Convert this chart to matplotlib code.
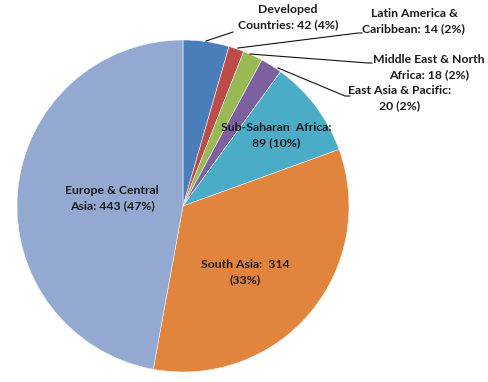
import matplotlib.pyplot as plt

regions = ["Developed Countries", "Latin America & Caribbean", "Middle East & North Africa",
           "East Asia & Pacific", "Sub-Saharan Africa", "South Asia", "Europe & Central Asia"]
counts = [42, 14, 18, 20, 89, 314, 443]
labels = ["Developed\nCountries: 42 (4%)",
          "Latin America &\nCaribbean: 14 (2%)",
          "Middle East & North\nAfrica: 18 (2%)",
          "East Asia & Pacific:\n20 (2%)",
          "Sub-Saharan  Africa:\n89 (10%)",
          "South Asia:  314\n(33%)",
          "Europe & Central\nAsia: 443 (47%)"]
colors = ["#4A7EBB", "#BE4B48", "#98B954", "#7D60A0", "#4AACC6", "#E0843E", "#93A9D1"]

W, H = 489, 382
fig = plt.figure(figsize=(W / 100, H / 100), dpi=100)
ax = fig.add_axes([0, 0, 1, 1])

cx, cy, r = 183, H - 206, 166
wedges, _ = ax.pie(counts, colors=colors, startangle=90, counterclock=False,
                   center=(cx, cy), radius=r, frame=True,
                   wedgeprops=dict(edgecolor="#f4f4f4", linewidth=0.4))
ax.set_xlim(0, W)
ax.set_ylim(0, H)
ax.set_aspect("equal")
ax.axis("off")

# label positions (pixel coords from top-left) and leader lines
pos = [(288, 17), (414, 21), (429, 67), (400, 98), (276, 135), (245, 272), (112, 198)]
leaders = {0: [(206, 41), (233, 32)],
           1: [(238, 48), (358, 33), (362, 33)],
           2: [(250, 54), (368, 63), (372, 63)],
           3: [(278, 68), (345, 96), (350, 96)]}

txt = dict(fontsize=8.8, fontweight="bold", color="#1a1a1a", family="Lato",
           ha="center", va="center", linespacing=1.5)
for i, lab in enumerate(labels):
    x, y = pos[i]
    ax.text(x, H - y, lab, **txt)

for i, pts in leaders.items():
    xs = [p[0] for p in pts]
    ys = [H - p[1] for p in pts]
    ax.plot(xs, ys, color="#111111", linewidth=0.8)

fig.savefig("out.png", dpi=100, facecolor="white")
